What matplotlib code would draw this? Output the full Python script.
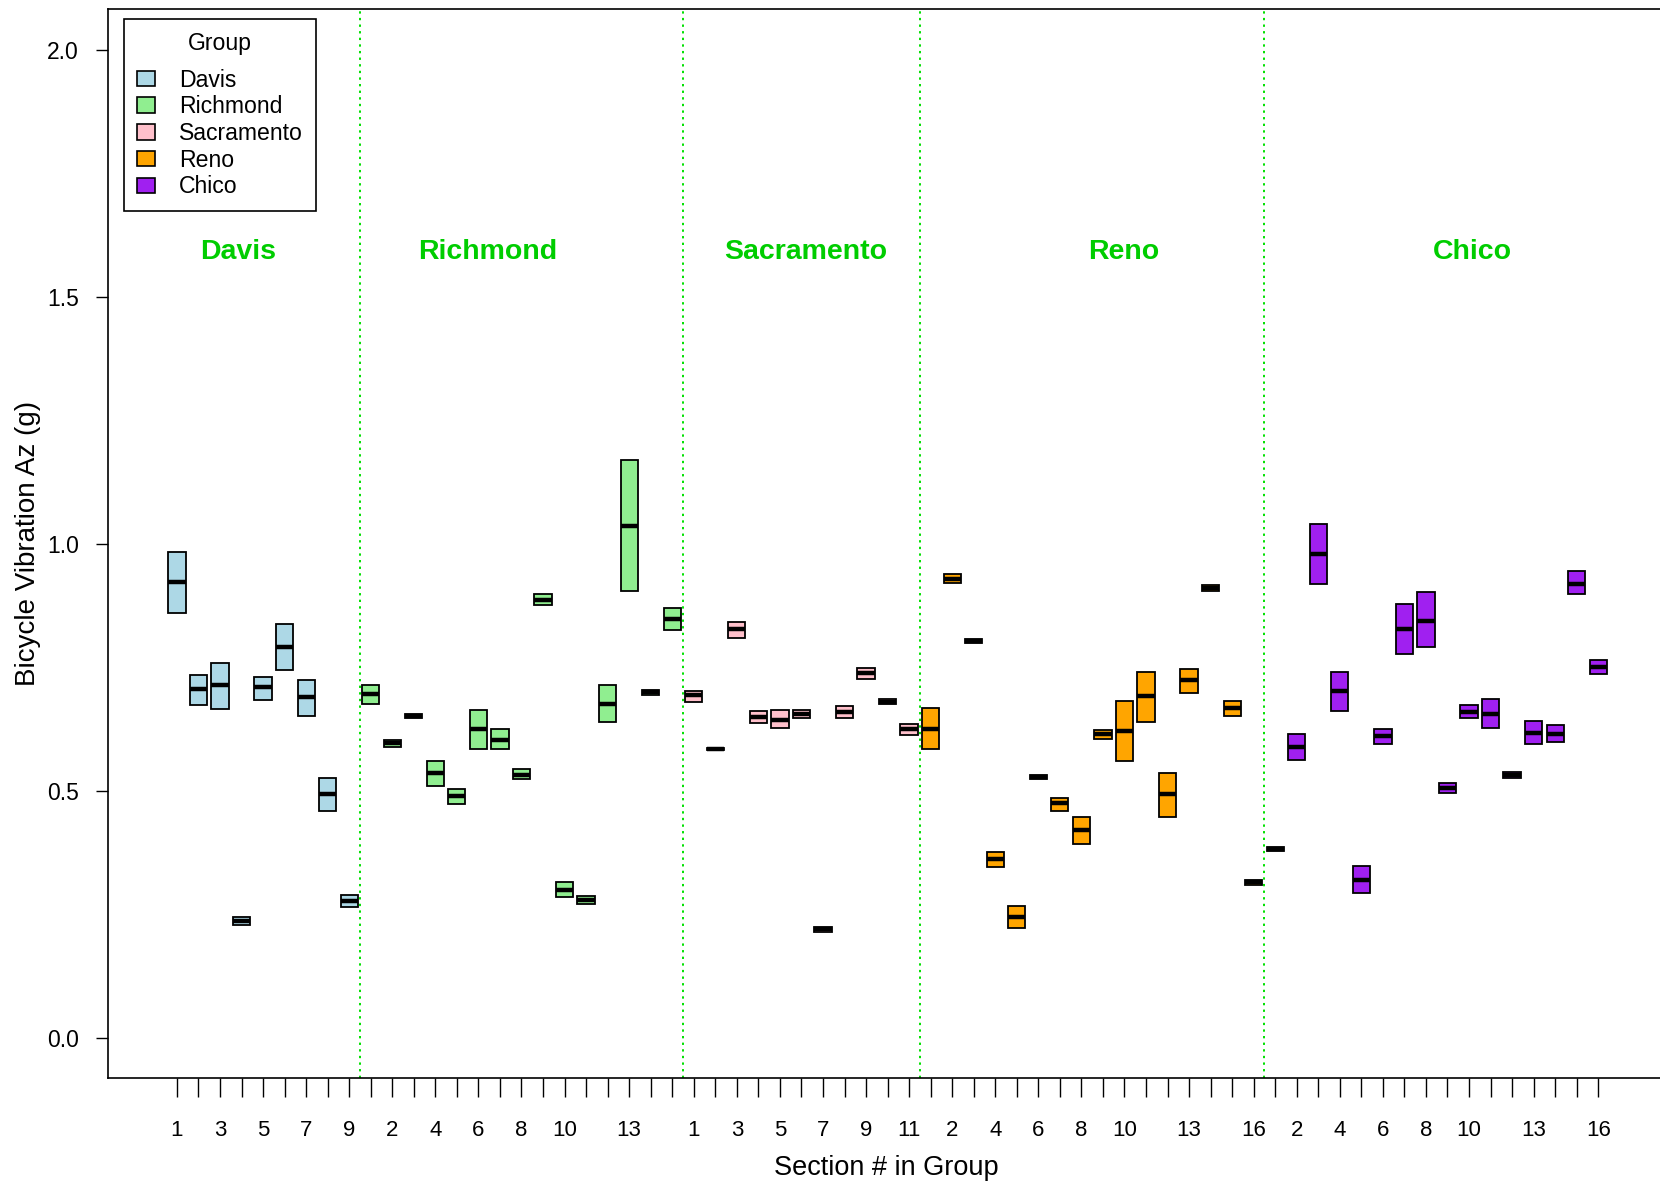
import matplotlib.pyplot as plt
from matplotlib.patches import Patch
import numpy as np

plt.rcParams["font.family"] = ["Liberation Sans", "DejaVu Sans"]

groups = ["Davis", "Richmond", "Sacramento", "Reno", "Chico"]
colors = ["#ADD8E6", "#90EE90", "#FFC0CB", "#FFA500", "#A020F0"]
n_sections = [9, 15, 11, 16, 16]

# lower hinge, median, upper hinge for every section, group after group
q1 = [
    0.86, 0.675, 0.667, 0.230, 0.685, 0.745, 0.653, 0.461, 0.266,
    0.677, 0.589, 0.648, 0.511, 0.475, 0.585, 0.585, 0.525, 0.876, 0.287,
    0.272, 0.639, 0.905, 0.694, 0.827,
    0.681, 0.583, 0.809, 0.638, 0.628, 0.649, 0.216, 0.649, 0.727, 0.677, 0.613,
    0.585, 0.921, 0.799, 0.347, 0.223, 0.524, 0.461, 0.394, 0.606, 0.561,
    0.639, 0.447, 0.699, 0.904, 0.653, 0.311,
    0.379, 0.564, 0.919, 0.663, 0.294, 0.596, 0.777, 0.791, 0.496, 0.649,
    0.628, 0.527, 0.596, 0.600, 0.898, 0.737,
]
med = [
    0.923, 0.707, 0.714, 0.238, 0.711, 0.792, 0.690, 0.494, 0.278,
    0.696, 0.597, 0.653, 0.537, 0.490, 0.625, 0.603, 0.533, 0.887, 0.301,
    0.280, 0.677, 1.037, 0.700, 0.849,
    0.694, 0.586, 0.829, 0.651, 0.645, 0.657, 0.221, 0.661, 0.739, 0.681, 0.625,
    0.625, 0.930, 0.804, 0.363, 0.245, 0.529, 0.476, 0.422, 0.615, 0.622,
    0.692, 0.494, 0.725, 0.911, 0.669, 0.316,
    0.384, 0.590, 0.980, 0.703, 0.320, 0.612, 0.828, 0.845, 0.506, 0.661,
    0.657, 0.533, 0.618, 0.616, 0.920, 0.752,
]
q3 = [
    0.984, 0.735, 0.760, 0.245, 0.731, 0.839, 0.725, 0.526, 0.291,
    0.714, 0.604, 0.657, 0.562, 0.505, 0.665, 0.626, 0.544, 0.899, 0.316,
    0.288, 0.714, 1.169, 0.704, 0.870,
    0.702, 0.588, 0.843, 0.662, 0.665, 0.665, 0.225, 0.672, 0.750, 0.686, 0.636,
    0.669, 0.939, 0.808, 0.377, 0.267, 0.533, 0.487, 0.448, 0.623, 0.683,
    0.742, 0.537, 0.747, 0.917, 0.683, 0.321,
    0.388, 0.615, 1.041, 0.742, 0.348, 0.626, 0.878, 0.902, 0.516, 0.674,
    0.686, 0.538, 0.643, 0.633, 0.946, 0.765,
]

# section numbers that carry a tick label, per group
labelled = [
    [1, 3, 5, 7, 9],
    [2, 4, 6, 8, 10, 13],
    [1, 3, 5, 7, 9, 11],
    [2, 4, 6, 8, 10, 13, 16],
    [2, 4, 6, 8, 10, 13, 16],
]
# where the green group names sit (section index, value)
name_pos = [3.85, 15.45, 30.2, 44.95, 61.15]
name_y = 1.59


def main():
    fig = plt.figure(figsize=(16.6, 11.83), dpi=100)
    ax = fig.add_axes([108 / 1660, 1 - 1078 / 1183, 1557 / 1660, 1069.5 / 1183])

    starts = np.concatenate([[0], np.cumsum(n_sections)[:-1]]) + 1
    x = np.arange(1, sum(n_sections) + 1)
    box_colors = np.repeat(colors, n_sections)
    lo = np.array(q1)
    hi = np.array(q3)

    ax.bar(x, hi - lo, bottom=lo, width=0.8, color=box_colors,
           edgecolor="black", linewidth=1.3, zorder=3)
    ax.hlines(med, x - 0.4, x + 0.4, color="black", linewidth=3.2, zorder=4)

    for s in starts[1:]:
        ax.axvline(s - 0.5, color="#00E000", linestyle=(0, (1.2, 2.2)),
                   linewidth=1.4, zorder=1)

    for g, xp in enumerate(name_pos):
        ax.text(xp, name_y, groups[g], color="#00CD00", fontsize=20.5,
                fontweight="bold", ha="center", va="center")

    tick_pos = []
    tick_lab = []
    for g, s in enumerate(starts):
        for k in labelled[g]:
            tick_pos.append(s + k - 1)
            tick_lab.append(str(k))
    ax.set_xticks(x, minor=True)
    ax.set_xticks(tick_pos)
    ax.set_xticklabels(tick_lab)
    ax.tick_params(axis="x", which="both", length=14, width=1.0,
                   direction="out", pad=16, labelsize=16)

    ax.set_yticks([0.0, 0.5, 1.0, 1.5, 2.0])
    ax.set_yticklabels(["0.0", "0.5", "1.0", "1.5", "2.0"])
    ax.tick_params(axis="y", length=9, width=1.0, pad=12, labelsize=16.5)

    ax.set_xlim(-2.2, 70.1)
    ax.set_ylim(-0.08, 2.083)
    for sp in ax.spines.values():
        sp.set_linewidth(1.2)
    ax.spines["right"].set_visible(False)

    ax.set_xlabel("Section # in Group", fontsize=19.5, labelpad=10)
    ax.set_ylabel("Bicycle Vibration Az (g)", fontsize=20, labelpad=4)

    handles = [Patch(facecolor=c, edgecolor="black", linewidth=1.2) for c in colors]
    leg = ax.legend(handles, groups, title="Group", loc="upper left",
                    bbox_to_anchor=(124 / 1660, 1 - 19 / 1183),
                    bbox_transform=fig.transFigure, borderaxespad=0,
                    fontsize=16.6, title_fontsize=16.6, fancybox=False,
                    framealpha=1, edgecolor="black", handlelength=0.8,
                    handleheight=0.65, handletextpad=1.05, labelspacing=0.16,
                    borderpad=0.55)
    leg.get_frame().set_linewidth(1.2)
    leg._legend_box.sep = 10

    fig.savefig("out.png", dpi=100)


if __name__ == "__main__":
    main()
